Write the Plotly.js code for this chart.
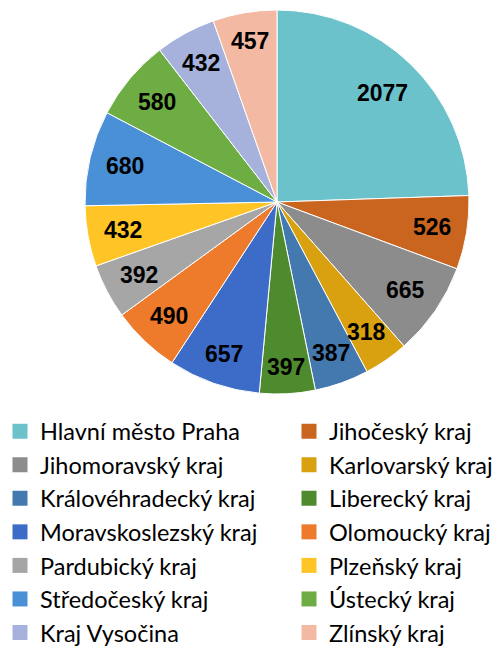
<!DOCTYPE html>
<html><head><meta charset="utf-8">
<script src="https://cdn.plot.ly/plotly-3.0.1.min.js"></script>
<style>body{margin:0;background:#fff}#chart{width:501px;height:647px}</style>
</head><body><div id="chart"></div>
<script>
const regions = ["Hlavní město Praha","Jihočeský kraj","Jihomoravský kraj","Karlovarský kraj","Královéhradecký kraj","Liberecký kraj","Moravskoslezský kraj","Olomoucký kraj","Pardubický kraj","Plzeňský kraj","Středočeský kraj","Ústecký kraj","Kraj Vysočina","Zlínský kraj"];
const counts = [2077,526,665,318,387,397,657,490,392,432,680,580,432,457];
const colors = ["#6BC2CB","#C9651E","#8C8C8C","#D9A010","#4479B0","#4E8A2E","#3D6CC8","#EE7A2C","#A6A6A6","#FFC425","#4A90D6","#6EAD44","#A6B2DC","#F4B9A3"];
const W=501,H=647,cx=277,cy=202,r=192;
const dom = {x:[(cx-r)/W,(cx+r)/W], y:[1-(cy+r)/H, 1-(cy-r)/H]};
const traces = [{
  type:'pie', labels:regions, values:counts, sort:false, direction:'clockwise', rotation:0,
  marker:{colors:colors, line:{color:'#ffffff', width:1}},
  textinfo:'none', showlegend:false,
  domain:dom, hoverinfo:'none'
}];
// legend entries in two columns (row-wise order as in the reference)
regions.forEach((name,i)=>{
  traces.push({type:'scatter', mode:'markers', x:[null], y:[null], name:name,
    marker:{symbol:'square', size:15, color:colors[i]},
    legend: i%2===0 ? 'legend' : 'legend2', showlegend:true, hoverinfo:'none'});
});
// value labels: inside each slice along its bisector, label box's outer corner kept at a fixed radius
const total = counts.reduce((a,b)=>a+b,0);
const annotations = [];
let cum = 0;
const D = 0.927*r, hh = 11;
counts.forEach((v,i)=>{
  const mid = (cum + v/2)/total*2*Math.PI; cum += v;
  const ux = Math.sin(mid), uy = -Math.cos(mid);
  const hw = 0.5*String(v).length*12.8;
  const b = Math.abs(ux)*hw + Math.abs(uy)*hh;
  const t = -b + Math.sqrt(b*b - (hw*hw + hh*hh - D*D));
  annotations.push({xref:'paper', yref:'paper', x:(cx + t*ux)/W, y:1-(cy + t*uy)/H,
    text:String(v), showarrow:false, xanchor:'center', yanchor:'middle',
    font:{family:'Liberation Sans, Arial, sans-serif', size:23, color:'#000', weight:'bold'}});
});
const legFont = {family:'Lato, sans-serif', size:23.5, color:'#000'};
const layout = {
  width:W, height:H, margin:{l:0,r:0,t:0,b:0,autoexpand:false}, paper_bgcolor:'#fff', plot_bgcolor:'rgba(0,0,0,0)',
  xaxis:{visible:false}, yaxis:{visible:false},
  showlegend:true, annotations:annotations,
  legend:{orientation:'v', x:0.0, xanchor:'left', y:0.3672, yanchor:'top', traceorder:'normal', font:legFont, bgcolor:'rgba(0,0,0,0)', maxheight:1000},
  legend2:{orientation:'v', x:289/W, xanchor:'left', y:0.3672, yanchor:'top', traceorder:'normal', font:legFont, bgcolor:'rgba(0,0,0,0)', maxheight:1000}
};
Plotly.newPlot('chart',traces,layout,{displayModeBar:false,staticPlot:true});
</script></body></html>
